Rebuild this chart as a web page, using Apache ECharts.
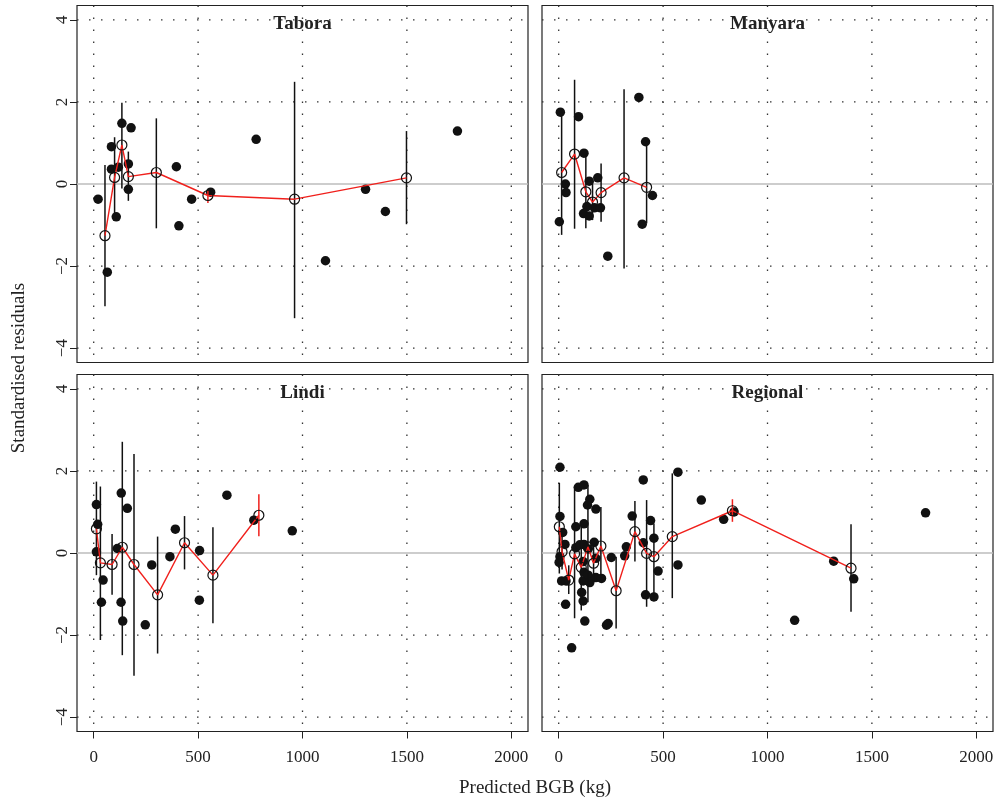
<!DOCTYPE html>
<html><head><meta charset="utf-8">
<script src="https://cdn.jsdelivr.net/npm/echarts@6/dist/echarts.min.js"></script>
<style>html,body{margin:0;padding:0;background:#fff}#c{width:1002px;height:807px}</style>
</head><body><div id="c"></div>
<script>
const xTicks = [0, 500, 1000, 1500, 2000];
const yTicks = [-4, -2, 0, 2, 4];
const panelNames = ['Tabora', 'Manyara', 'Lindi', 'Regional'];
const xTitle = 'Predicted BGB (kg)';
const yTitle = 'Standardised residuals';

// Tabora
const taboraX = [21, 65, 85, 85, 118, 108, 135, 179, 166, 166, 396, 408, 469, 560, 778, 1110, 1302, 1397, 1742];
const taboraY = [-0.37, -2.15, 0.91, 0.36, 0.41, -0.80, 1.48, 1.37, 0.49, -0.13, 0.42, -1.02, -0.37, -0.20, 1.09, -1.87, -0.13, -0.67, 1.29];
const taboraBinX = [54, 100, 135, 166, 300, 547, 962, 1498];
const taboraBinMean = [-1.26, 0.16, 0.95, 0.18, 0.28, -0.28, -0.37, 0.15];
const taboraBinLo = [-2.98, -0.88, -0.11, -0.41, -1.08, -0.46, -3.27, -0.98];
const taboraBinHi = [0.46, 1.14, 1.98, 0.79, 1.60, -0.15, 2.49, 1.29];
const taboraRedBins = [5];

// Manyara
const manyaraX = [8, 95, 121, 32, 35, 3, 146, 187, 135, 119, 146, 171, 200, 235, 384, 416, 400, 449];
const manyaraY = [1.75, 1.64, 0.75, 0.00, -0.21, -0.92, 0.07, 0.15, -0.55, -0.72, -0.78, -0.58, -0.58, -1.76, 2.11, 1.03, -0.98, -0.28];
const manyaraBinX = [14, 76, 130, 162, 203, 313, 421];
const manyaraBinMean = [0.28, 0.73, -0.19, -0.44, -0.21, 0.15, -0.08];
const manyaraBinLo = [-1.24, -1.09, -1.08, -0.88, -0.92, -2.06, -0.96];
const manyaraBinHi = [1.75, 2.54, 0.75, 0.10, 0.50, 2.31, 1.03];
const manyaraRedBins = [];

// Lindi
const lindiX = [13, 19, 13, 45, 37, 132, 161, 113, 131, 139, 247, 278, 365, 391, 507, 506, 638, 767, 951];
const lindiY = [1.18, 0.70, 0.03, -0.66, -1.20, 1.46, 1.09, 0.11, -1.20, -1.66, -1.75, -0.29, -0.09, 0.58, 0.06, -1.15, 1.41, 0.80, 0.54];
const lindiBinX = [13, 32, 88, 137, 193, 306, 435, 571, 791];
const lindiBinMean = [0.59, -0.24, -0.28, 0.14, -0.28, -1.02, 0.25, -0.54, 0.92];
const lindiBinLo = [-0.54, -2.12, -1.02, -2.49, -2.99, -2.45, -0.40, -1.71, 0.41];
const lindiBinHi = [1.74, 1.62, 0.46, 2.71, 2.41, 0.40, 0.90, 0.63, 1.43];
const lindiRedBins = [8];

// Regional
const regionalX = [6, 6, 19, 30, 6, 2, 14, 35, 33, 62, 94, 121, 149, 138, 178, 82, 121, 82, 101, 121, 141, 170, 117, 178, 121, 117, 141, 149, 178, 205, 110, 117, 125, 229, 237, 252, 324, 316, 352,
  405, 571, 683, 790, 405, 440, 456, 476, 416, 456, 571, 1317, 1413, 1130, 1757, 840];
const regionalY = [2.09, 0.89, 0.50, 0.21, -0.09, -0.23, -0.68, -0.68, -1.25, -2.31, 1.60, 1.66, 1.31, 1.17, 1.07, 0.64, 0.71, 0.13, 0.20, 0.21, 0.10, 0.26, -0.21, -0.13, -0.47, -0.68, -0.54, -0.72, -0.60, -0.62, -0.96, -1.17, -1.66, -1.76, -1.72, -0.11, 0.15, -0.07, 0.90,
  1.78, 1.97, 1.29, 0.82, 0.25, 0.79, 0.36, -0.44, -1.02, -1.07, -0.29, -0.20, -0.63, -1.64, 0.98, 1.00];
const regionalBinX = [3, 16, 48, 76, 108, 140, 167, 202, 275, 365, 421, 456, 544, 832, 1400];
const regionalBinMean = [0.64, 0.03, -0.66, -0.02, -0.35, 0.15, -0.25, 0.17, -0.92, 0.52, -0.01, -0.09, 0.40, 1.03, -0.37];
const regionalBinLo = [-0.50, -0.40, -1.00, -1.59, -1.40, -1.20, -0.70, -0.60, -1.84, -0.21, -1.31, -1.10, -1.10, 0.76, -1.43];
const regionalBinHi = [1.71, 0.50, -0.30, 1.62, 0.64, 1.66, 0.30, 1.12, -0.09, 1.27, 1.29, 0.72, 1.94, 1.31, 0.70];
const regionalRedBins = [13];

const panels = [
  {x: taboraX, y: taboraY, bx: taboraBinX, bm: taboraBinMean, lo: taboraBinLo, hi: taboraBinHi, red: taboraRedBins},
  {x: manyaraX, y: manyaraY, bx: manyaraBinX, bm: manyaraBinMean, lo: manyaraBinLo, hi: manyaraBinHi, red: manyaraRedBins},
  {x: lindiX, y: lindiY, bx: lindiBinX, bm: lindiBinMean, lo: lindiBinLo, hi: lindiBinHi, red: lindiRedBins},
  {x: regionalX, y: regionalY, bx: regionalBinX, bm: regionalBinMean, lo: regionalBinLo, hi: regionalBinHi, red: regionalRedBins}
];

const FONT = 'Liberation Serif';
const RED = '#f0201c';
const INK = '#111111';
const X_MIN = -80, X_MAX = 2080, Y_MIN = -4.35, Y_MAX = 4.35;

const gridPos = [
  {left: 77, top: 5.5}, {left: 542, top: 5.5},
  {left: 77, top: 374.5}, {left: 542, top: 374.5}
];
const grids = gridPos.map(g => ({left: g.left, top: g.top, width: 451, height: 357,
  show: true, borderColor: '#222', borderWidth: 1.2, backgroundColor: 'transparent'}));

const xAxes = [0,1,2,3].map(i => {
  const bottom = i >= 2;
  return {type: 'value', gridIndex: i, min: X_MIN, max: X_MAX, position: 'bottom',
    axisLine: {show: false, onZero: false}, splitLine: {show: false},
    axisTick: {show: bottom, customValues: xTicks, length: 7, lineStyle: {color: '#222', width: 1}},
    axisLabel: {show: bottom, customValues: xTicks, margin: 18, fontFamily: FONT, fontSize: 17, color: '#222',
      formatter: v => String(v)}};
});
const yAxes = [0,1,2,3].map(i => {
  const left = i % 2 === 0;
  return {type: 'value', gridIndex: i, min: Y_MIN, max: Y_MAX, position: 'left',
    axisLine: {show: false, onZero: false}, splitLine: {show: false},
    axisTick: {show: left, customValues: yTicks, length: 7, lineStyle: {color: '#222', width: 1}},
    axisLabel: {show: left, customValues: yTicks, rotate: 90, margin: 6, fontFamily: FONT, fontSize: 17, color: '#222',
      formatter: v => (v < 0 ? '\u2212' + Math.abs(v) : String(v))}};
});

const series = [];
panels.forEach((p, i) => {
  // dotted grid lines (vertical)
  series.push({type: 'custom', xAxisIndex: i, yAxisIndex: i, z: 1, silent: true,
    data: xTicks.map(v => [v, 0]),
    renderItem: (params, api) => {
      const c = api.coord([api.value(0), 0]);
      const cs = params.coordSys;
      return {type: 'line', shape: {x1: c[0], y1: cs.y, x2: c[0], y2: cs.y + cs.height},
        style: {stroke: '#333', lineWidth: 1.3, lineDash: [1.5, 10.5]}};
    }});
  // dotted grid lines (horizontal), zero handled by grey line
  series.push({type: 'custom', xAxisIndex: i, yAxisIndex: i, z: 1, silent: true,
    data: yTicks.filter(v => v !== 0).map(v => [0, v]),
    renderItem: (params, api) => {
      const c = api.coord([0, api.value(1)]);
      const cs = params.coordSys;
      return {type: 'line', shape: {x1: cs.x, y1: c[1], x2: cs.x + cs.width, y2: c[1]},
        style: {stroke: '#333', lineWidth: 1.3, lineDash: [1.5, 10.5]}};
    }});
  // zero reference line
  series.push({type: 'custom', xAxisIndex: i, yAxisIndex: i, z: 2, silent: true,
    data: [[0, 0]],
    renderItem: (params, api) => {
      const c = api.coord([0, 0]);
      const cs = params.coordSys;
      return {type: 'line', shape: {x1: cs.x, y1: c[1], x2: cs.x + cs.width, y2: c[1]},
        style: {stroke: '#bdbdbd', lineWidth: 1.6}};
    }});
  // observations
  series.push({type: 'scatter', xAxisIndex: i, yAxisIndex: i, z: 3, symbol: 'circle', symbolSize: 9.5,
    itemStyle: {color: INK, opacity: 1}, data: p.x.map((v, k) => [v, p.y[k]])});
  // error bars
  series.push({type: 'custom', xAxisIndex: i, yAxisIndex: i, z: 4,
    data: p.bx.map((v, k) => [v, p.lo[k], p.hi[k], p.red.includes(k) ? 1 : 0]),
    renderItem: (params, api) => {
      const a = api.coord([api.value(0), api.value(1)]);
      const b = api.coord([api.value(0), api.value(2)]);
      return {type: 'line', shape: {x1: a[0], y1: a[1], x2: b[0], y2: b[1]},
        style: {stroke: api.value(3) ? RED : INK, lineWidth: 1.5}};
    }});
  // running mean line
  series.push({type: 'line', xAxisIndex: i, yAxisIndex: i, z: 5, symbol: 'none',
    lineStyle: {color: RED, width: 1.4}, data: p.bx.map((v, k) => [v, p.bm[k]])});
  // bin means (open circles)
  series.push({type: 'scatter', xAxisIndex: i, yAxisIndex: i, z: 6, symbol: 'circle', symbolSize: 10,
    itemStyle: {color: 'rgba(0,0,0,0)', borderColor: INK, borderWidth: 1.2, opacity: 1},
    data: p.bx.map((v, k) => [v, p.bm[k]])});
});

const titleCenters = [[302.5, 24], [767.5, 24], [302.5, 393], [767.5, 393]];
const graphics = panelNames.map((n, i) => ({type: 'text', x: titleCenters[i][0], y: titleCenters[i][1],
  style: {text: n, fontFamily: FONT, fontWeight: 'bold', fontSize: 19, fill: '#222', textAlign: 'center', textVerticalAlign: 'middle'}}));
graphics.push({type: 'text', x: 535, y: 788, style: {text: xTitle, fontFamily: FONT, fontSize: 19, fill: '#222', textAlign: 'center', textVerticalAlign: 'middle'}});
graphics.push({type: 'text', x: 19, y: 368, rotation: Math.PI / 2, style: {text: yTitle, fontFamily: FONT, fontSize: 19, fill: '#222', textAlign: 'center', textVerticalAlign: 'middle'}});

const chart = echarts.init(document.getElementById('c'), null, {renderer: 'canvas'});
chart.setOption({animation: false, backgroundColor: '#fff', grid: grids, xAxis: xAxes, yAxis: yAxes, series, graphic: graphics});
</script></body></html>
